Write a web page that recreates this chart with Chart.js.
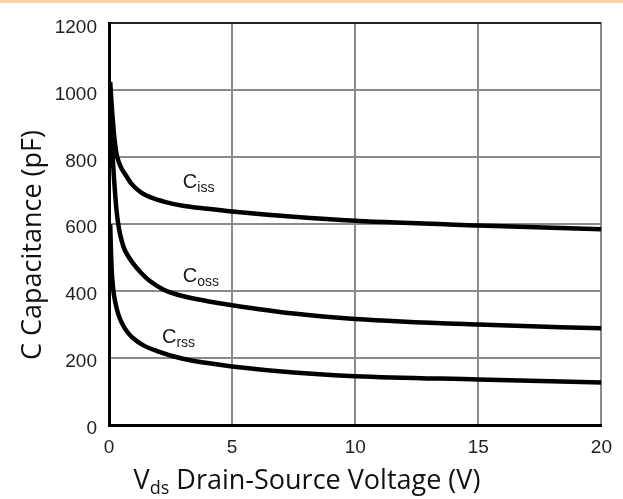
<!DOCTYPE html>
<html>
<head>
<meta charset="utf-8">
<script src="https://cdn.jsdelivr.net/npm/chart.js@4/dist/chart.umd.min.js"></script>
<style>
  html, body { margin: 0; padding: 0; background: #fff; }
  #wrap { position: relative; width: 623px; height: 499px; }
  #band { position: absolute; left: 0; top: 0; width: 623px; height: 3px; background: #f8d2aa; }
</style>
</head>
<body>
<div id="wrap">
  <canvas id="chart1" width="623" height="499"></canvas>
  <div id="band"></div>
</div>
<script>
// ===== Data =====
const xTicks = [0, 5, 10, 15, 20];
const yTicks = [0, 200, 400, 600, 800, 1000, 1200];

const vdsCiss = [0.05, 0.1, 0.15, 0.2, 0.25, 0.3, 0.4, 0.5, 0.65, 0.9, 1.26, 1.7, 2.3, 3, 4, 5, 7.5, 10, 15, 20];
const ciss    = [1025, 965, 915, 872, 838, 812, 785, 768, 750, 722, 697, 680, 666, 655, 646, 638, 622, 610, 596, 585];

const vdsCoss = [0.05, 0.1, 0.15, 0.2, 0.25, 0.3, 0.37, 0.45, 0.6, 0.8, 0.97, 1.3, 1.66, 2.2, 2.75, 4, 5, 7.5, 10, 15, 20];
const coss    = [930, 860, 800, 740, 690, 645, 603, 570, 530, 502, 484, 455, 430, 405, 390, 370, 358, 333, 317, 300, 289];

const vdsCrss = [0.05, 0.08, 0.12, 0.18, 0.27, 0.37, 0.5, 0.65, 0.8, 0.97, 1.4, 1.95, 3, 4, 5, 7.5, 10, 15, 20];
const crss    = [600, 520, 450, 400, 362, 333, 308, 288, 273, 260, 238, 221, 198, 185, 175, 157, 146, 136, 127];

// curve names: main letter + subscript, placed at (V, pF)
const curveLabels = [
    { main: "C", sub: "iss", x: 3.0, y: 708 },
    { main: "C", sub: "oss", x: 3.0, y: 428 },
    { main: "C", sub: "rss", x: 2.15, y: 245 }
];

function toPoints(xs, ys) {
    return xs.map((x, i) => ({ x: x, y: ys[i] }));
}

function curve(xs, ys) {
    return {
        data: toPoints(xs, ys),
        borderColor: "#000000",
        borderWidth: 4.5,
        pointRadius: 0,
        fill: false,
        cubicInterpolationMode: "monotone"
    };
}

// ===== Custom text: curve labels and axis titles =====
const textPlugin = {
    id: "textPlugin",
    afterDatasetsDraw(chart) {
        const ctx = chart.ctx;
        const xs = chart.scales.x;
        const ys = chart.scales.y;
        ctx.save();
        ctx.fillStyle = "#1a1a1a";
        ctx.textBaseline = "alphabetic";
        ctx.textAlign = "left";
        curveLabels.forEach(l => {
            const px = xs.getPixelForValue(l.x);
            const py = ys.getPixelForValue(l.y);
            ctx.font = "20px 'Liberation Sans', Arial, sans-serif";
            ctx.fillText(l.main, px, py);
            const w = ctx.measureText(l.main).width;
            ctx.font = "14px 'Liberation Sans', Arial, sans-serif";
            ctx.fillText(l.sub, px + w, py + 4);
        });
        ctx.restore();
    },
    afterDraw(chart) {
        const ctx = chart.ctx;
        ctx.save();
        ctx.fillStyle = "#111";
        ctx.textBaseline = "alphabetic";

        // x title with subscript
        const big = "27px 'Open Sans', sans-serif";
        const small = "18px 'Open Sans', sans-serif";
        const rest = " Drain-Source Voltage (V)";
        ctx.font = big;
        const wV = ctx.measureText("V").width;
        const wRest = ctx.measureText(rest).width;
        ctx.font = small;
        const wSub = ctx.measureText("ds").width;
        const total = wV + wSub + wRest;
        let x0 = 307 - total / 2;
        const base = 489;
        ctx.textAlign = "left";
        ctx.font = big;
        ctx.fillText("V", x0, base);
        ctx.font = small;
        ctx.fillText("ds", x0 + wV, base + 5);
        ctx.font = big;
        ctx.fillText(rest, x0 + wV + wSub, base);

        // y title
        ctx.translate(33, 245);
        ctx.rotate(-Math.PI / 2);
        ctx.textAlign = "center";
        ctx.textBaseline = "middle";
        ctx.font = big;
        ctx.fillText("C Capacitance (pF)", 0, 0);
        ctx.restore();
    }
};

// ===== Chart =====
const chart1 = new Chart(document.getElementById("chart1"), {
    type: "line",
    data: {
        datasets: [
            curve(vdsCiss, ciss),
            curve(vdsCoss, coss),
            curve(vdsCrss, crss)
        ]
    },
    options: {
        responsive: false,
        animation: false,
        layout: { padding: { top: 18, right: 21, left: 0, bottom: 0 } },
        plugins: {
            legend: { display: false },
            tooltip: { enabled: false }
        },
        scales: {
            x: {
                type: "linear",
                min: 0,
                max: 20,
                afterBuildTicks: s => { s.ticks = xTicks.map(v => ({ value: v })); },
                afterFit: s => { s.height = 74; },
                grid: {
                    color: "#8a8a8a",
                    lineWidth: 2,
                    drawTicks: false
                },
                border: { color: "#000", width: 3 },
                ticks: {
                    padding: 11,
                    color: "#222",
                    callback: v => String(v),
                    font: { family: "'Liberation Sans', Arial, sans-serif", size: 19 }
                }
            },
            y: {
                min: 0,
                max: 1200,
                afterBuildTicks: s => { s.ticks = yTicks.map(v => ({ value: v })); },
                afterFit: s => { s.width = 109; },
                grid: {
                    color: c => (c.tick && c.tick.value === 1200 ? "#222" : "#8a8a8a"),
                    lineWidth: 2,
                    drawTicks: false
                },
                border: { color: "#000", width: 3 },
                ticks: {
                    padding: 12,
                    labelOffset: 4,
                    color: "#222",
                    callback: v => String(v),
                    font: { family: "'Liberation Sans', Arial, sans-serif", size: 19 }
                }
            }
        }
    },
    plugins: [textPlugin]
});
</script>
</body>
</html>
